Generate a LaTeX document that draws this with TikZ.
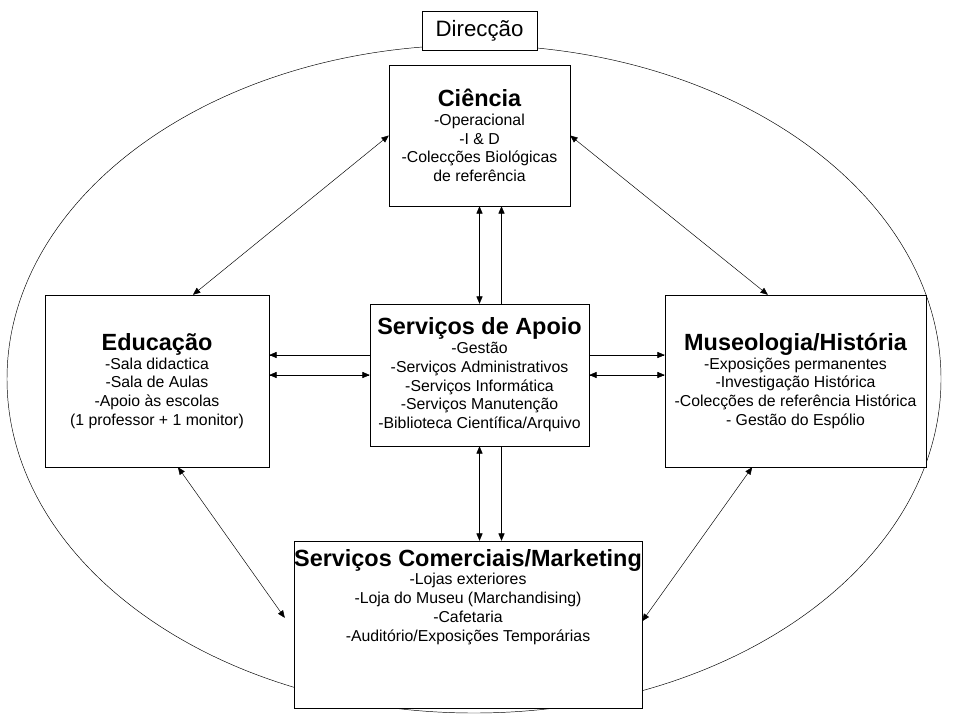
\documentclass[tikz,border=0pt]{standalone}
\usepackage{fontspec}
\setmainfont{Liberation Sans}
\usetikzlibrary{arrows}

\begin{document}
\begin{tikzpicture}[x=0.03cm,y=-0.03cm]

    \tikzset{BX/.style={draw=black,thin,fill=white,align=center,inner sep=0mm,font=\fontsize{13.5}{16}\selectfont}}
    \tikzset{AR/.style={draw=black,thin,-triangle 45}}
    \tikzset{DA/.style={draw=black,thin,triangle 45-triangle 45}}
    \newcommand{\ttl}[1]{{\fontsize{20}{22}\selectfont\bfseries #1}}

    \useasboundingbox (0,0) rectangle (960,720);
    \draw[thin] (474,379) ellipse (467 and 334);

    \node (dir) [BX,minimum width=3.45cm,minimum height=1.17cm,font=\fontsize{19}{21}\selectfont] at (479.5,30.5) {Direcção};
    \node (cien) [BX,minimum width=5.43cm,minimum height=4.23cm] at (479.5,135.5)
        {\ttl{Ciência}\\-Operacional\\-I \& D\\-Colecções Biológicas\\de referência};
    	\node (edu) [BX,minimum width=6.72cm,minimum height=5.16cm] at (157,381)
    	    {\ttl{Educação}\\-Sala didactica\\-Sala de Aulas\\-Apoio às escolas\\(1 professor + 1 monitor)};
    	\node (apoio) [BX,minimum width=6.57cm,minimum height=4.26cm] at (479.5,375)
    	    {\ttl{Serviços de Apoio}\\-Gestão\\-Serviços Administrativos\\-Serviços Informática\\-Serviços Manutenção\\-Biblioteca Científica/Arquivo};
    	\node (museu) [BX,minimum width=7.83cm,minimum height=5.16cm] at (795.5,381)
    	    {\ttl{Museologia/História}\\-Exposições permanentes\\-Investigação Histórica\\-Colecções de referência Histórica\\- Gestão do Espólio};
    		\node (com) [BX,minimum width=10.44cm,minimum height=5.01cm] at (468,624.5)
    		    {\ttl{Serviços Comerciais/Marketing}\\-Lojas exteriores\\-Loja do Museu (Marchandising)\\-Cafetaria\\-Auditório/Exposições Temporárias\\[1.2cm]};

    \coordinate (an) at ([xshift=0.66cm]apoio.north);
    \coordinate (as) at ([xshift=0.66cm]apoio.south);
    \coordinate (aw) at ([yshift=0.6cm]apoio.west);
    \coordinate (ae) at ([yshift=0.6cm]apoio.east);

    \path[DA] (apoio.north) -- (cien.south);
    \path[AR] (an) -- (cien.south -| an);
    \path[DA] (apoio.south) -- (com.north -| apoio.south);
    \path[AR] (as) -- (com.north -| as);
    	\path[AR] (aw) -- (edu.east |- aw);
    	\path[DA] (apoio.west) -- (edu.east |- apoio.west);
    	\path[AR] (ae) -- (museu.west |- ae);
    	\path[DA] (apoio.east) -- (museu.west |- apoio.east);
    \path[DA] (cien.west) -- ([xshift=1.08cm]edu.north);
    \path[DA] (cien.east) -- ([xshift=-0.83cm]museu.north);
    \path[DA] ([xshift=0.63cm]edu.south) -- ([xshift=-0.27cm,yshift=0.2cm]com.west);
    \path[DA] ([xshift=-1.3cm]museu.south) -- ([yshift=0.1cm]com.east);
\end{tikzpicture}
\end{document}
